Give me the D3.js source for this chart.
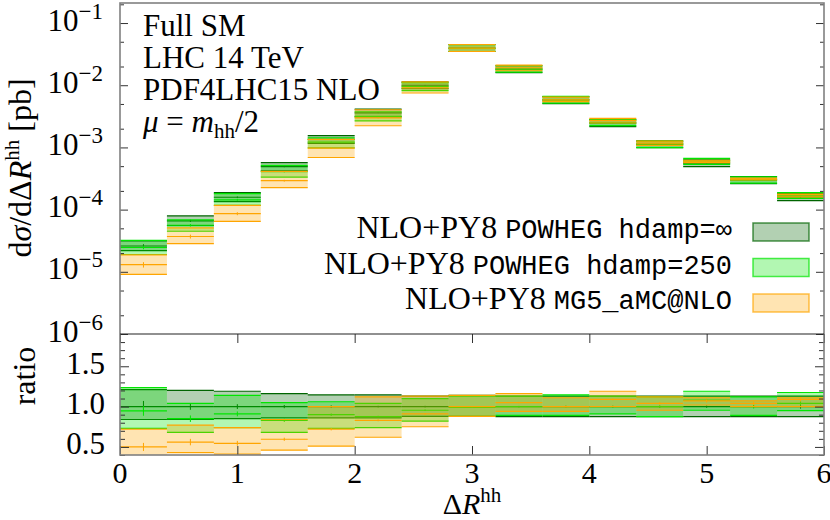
<!DOCTYPE html>
<html>
<head>
<meta charset="utf-8">
<script src="https://cdn.jsdelivr.net/npm/d3@7"></script>
<style>
  body { margin: 0; background: #fff; }
  text { font-family: "Liberation Serif", "Times New Roman", serif; fill: #000; }
  .tt { font-family: "Liberation Mono", "DejaVu Sans Mono", monospace; }
</style>
</head>
<body>
<svg id="chart" width="830" height="520"></svg>
<script>
'use strict'

// bin edges in Delta R^hh
const edges = [0, 0.4, 0.8, 1.2, 1.6, 2.0, 2.4, 2.8, 3.2, 3.6, 4.0, 4.4, 4.8, 5.2, 5.6, 6.0]

// central value of POWHEG hdamp=inf, dsigma/dDeltaR in pb
const refXsec = [2.6e-5, 6.6e-5, 1.58e-4, 4.9e-4, 1.35e-3, 3.6e-3, 1.0e-2, 3.96e-2,
  1.82e-2, 5.8e-3, 2.47e-3, 1.13e-3, 5.6e-4, 3.0e-4, 1.6e-4]

// everything below is a ratio to refXsec
const infMid = [1, 1, 1, 1, 1, 1, 1, 1, 1, 1, 1, 1, 1, 1, 1]
const infLo = [0.84, 0.84, 0.85, 0.86, 0.86, 0.86, 0.88, 0.88, 0.875, 0.875, 0.875, 0.875, 0.875, 0.875, 0.875]
const infHi = [1.21, 1.20, 1.19, 1.16, 1.145, 1.145, 1.13, 1.14, 1.13, 1.13, 1.13, 1.13, 1.13, 1.13, 1.13]
const infStat = [0.07, 0.04, 0.03, 0.02, 0.015, 0.01, 0.01, 0.006, 0.008, 0.01, 0.01, 0.012, 0.015, 0.02, 0.025]

const h250Mid = [0.946, 0.85, 0.91, 0.83, 0.90, 0.876, 0.955, 0.99, 1.0, 1.0, 1.0, 1.0, 1.08, 1.0, 1.04]
const h250Lo = [0.73, 0.68, 0.74, 0.68, 0.73, 0.74, 0.82, 0.88, 0.89, 0.89, 0.91, 0.876, 0.955, 0.89, 0.95]
const h250Hi = [1.235, 1.04, 1.14, 1.05, 1.06, 1.04, 1.10, 1.13, 1.13, 1.145, 1.13, 1.12, 1.19, 1.12, 1.175]
const h250Stat = [0.06, 0.04, 0.03, 0.02, 0.015, 0.01, 0.01, 0.006, 0.008, 0.01, 0.01, 0.012, 0.015, 0.02, 0.025]

const mgMid = [0.50, 0.56, 0.545, 0.595, 0.72, 0.83, 0.91, 1.0, 1.05, 1.0, 1.09, 1.04, 1.07, 1.04, 1.09]
const mgLo = [0.35, 0.43, 0.41, 0.46, 0.51, 0.62, 0.75, 0.88, 0.94, 0.94, 1.0, 0.955, 1.02, 1.0, 1.0]
const mgHi = [0.72, 0.77, 0.74, 0.84, 1.0, 1.12, 1.13, 1.14, 1.16, 1.11, 1.19, 1.12, 1.11, 1.07, 1.11]
const mgStat = [0.05, 0.04, 0.03, 0.02, 0.015, 0.012, 0.01, 0.006, 0.008, 0.01, 0.012, 0.015, 0.02, 0.02, 0.025]

const seriesNames = ['POWHEG hdamp=\u221e', 'POWHEG hdamp=250', 'MG5_aMC@NLO']
const seriesColors = ['#006400', '#00e600', '#ffa500']

// ticks
const xTicks = [0, 1, 2, 3, 4, 5, 6]
const logMajor = [1e-6, 1e-5, 1e-4, 1e-3, 1e-2, 1e-1]
const logMinor = [2e-6, 5e-6, 2e-5, 5e-5, 2e-4, 5e-4, 2e-3, 5e-3, 2e-2, 5e-2, 2e-1]
const ratioMajor = [0.5, 1.0, 1.5]
const ratioLabels = ['0.5', '1.0', '1.5']
const ratioMinor = [0.4, 0.6, 0.7, 0.8, 0.9, 1.1, 1.2, 1.3, 1.4, 1.6, 1.7, 1.8]

const infoLines = ['Full SM', 'LHC 14 TeV', 'PDF4LHC15 NLO']

const series = [
  { name: seriesNames[0], color: seriesColors[0], mid: infMid, lo: infLo, hi: infHi, stat: infStat },
  { name: seriesNames[1], color: seriesColors[1], mid: h250Mid, lo: h250Lo, hi: h250Hi, stat: h250Stat },
  { name: seriesNames[2], color: seriesColors[2], mid: mgMid, lo: mgLo, hi: mgHi, stat: mgStat }
]

const frame = { left: 120, right: 824, top: 3, mid: 334, bottom: 455 }

const svg = d3.select('#chart')

const x = d3.scaleLinear().domain([0, 6]).range([frame.left, frame.right])
const yMain = d3.scaleLog().domain([1e-6, 0.21]).range([frame.mid, frame.top])
const yRatio = d3.scaleLinear().domain([0.4, 1.9]).range([frame.bottom, frame.mid])

const bins = refXsec.map((v, i) => ({ i: i, x0: edges[i], x1: edges[i + 1] }))
const ones = refXsec.map(() => 1)

// clip regions
const defs = svg.append('defs')
defs.append('clipPath').attr('id', 'clipMain').append('rect')
  .attr('x', frame.left).attr('y', frame.top)
  .attr('width', frame.right - frame.left).attr('height', frame.mid - frame.top)
defs.append('clipPath').attr('id', 'clipRatio').append('rect')
  .attr('x', frame.left).attr('y', frame.mid)
  .attr('width', frame.right - frame.left).attr('height', frame.bottom - frame.mid)

let gMain = svg.append('g').attr('clip-path', 'url(#clipMain)')
let gRatio = svg.append('g').attr('clip-path', 'url(#clipRatio)')

series.forEach(s => {
  drawSeries(gMain, s, yMain, refXsec)
  drawSeries(gRatio, s, yRatio, ones)
})

drawAxes()
drawLabels()
drawLegend()

function drawSeries (g, s, yScale, norm) {
  let rows = bins.map(b => ({
    x0: b.x0,
    x1: b.x1,
    mid: s.mid[b.i] * norm[b.i],
    lo: s.lo[b.i] * norm[b.i],
    hi: s.hi[b.i] * norm[b.i],
    err: s.stat[b.i] * norm[b.i]
  }))
  let grp = g.append('g')

  grp.selectAll('rect')
    .data(rows)
    .enter()
    .append('rect')
      .attr('x', d => x(d.x0))
      .attr('width', d => x(d.x1) - x(d.x0))
      .attr('y', d => yScale(d.hi))
      .attr('height', d => yScale(d.lo) - yScale(d.hi))
      .attr('fill', s.color)
      .attr('fill-opacity', 0.3)

  ;['lo', 'hi', 'mid'].forEach(k => {
    grp.selectAll(null)
      .data(rows)
      .enter()
      .append('line')
        .attr('x1', d => x(d.x0))
        .attr('x2', d => x(d.x1))
        .attr('y1', d => yScale(d[k]))
        .attr('y2', d => yScale(d[k]))
        .attr('stroke', s.color)
        .attr('stroke-width', 1.2)
  })

  grp.selectAll(null)
    .data(rows)
    .enter()
    .append('line')
      .attr('x1', d => x((d.x0 + d.x1) / 2))
      .attr('x2', d => x((d.x0 + d.x1) / 2))
      .attr('y1', d => yScale(d.mid + d.err))
      .attr('y2', d => yScale(d.mid - d.err))
      .attr('stroke', s.color)
      .attr('stroke-width', 1)
}

function tickAxis (axis, transform) {
  let a = svg.append('g')
    .attr('transform', transform)
    .call(axis.tickFormat(''))
  a.select('.domain').remove()
  a.selectAll('line').attr('stroke', '#333').attr('stroke-width', 1)
}

function drawAxes () {
  // main panel, log y
  tickAxis(d3.axisLeft(yMain).tickValues(logMajor).tickSize(-8), `translate(${frame.left},0)`)
  tickAxis(d3.axisLeft(yMain).tickValues(logMinor).tickSize(-4), `translate(${frame.left},0)`)
  tickAxis(d3.axisRight(yMain).tickValues(logMajor).tickSize(-8), `translate(${frame.right},0)`)
  tickAxis(d3.axisRight(yMain).tickValues(logMinor).tickSize(-4), `translate(${frame.right},0)`)

  // ratio panel
  tickAxis(d3.axisLeft(yRatio).tickValues(ratioMajor).tickSize(-9), `translate(${frame.left},0)`)
  tickAxis(d3.axisLeft(yRatio).tickValues(ratioMinor).tickSize(-5), `translate(${frame.left},0)`)
  tickAxis(d3.axisRight(yRatio).tickValues(ratioMajor).tickSize(-9), `translate(${frame.right},0)`)
  tickAxis(d3.axisRight(yRatio).tickValues(ratioMinor).tickSize(-5), `translate(${frame.right},0)`)
  tickAxis(d3.axisBottom(x).tickValues(xTicks).tickSize(-9), `translate(0,${frame.bottom})`)
  tickAxis(d3.axisTop(x).tickValues(xTicks).tickSize(-9), `translate(0,${frame.mid})`)

  // frames
  svg.append('rect')
    .attr('x', frame.left).attr('y', frame.top)
    .attr('width', frame.right - frame.left).attr('height', frame.bottom - frame.top)
    .attr('fill', 'none').attr('stroke', '#808080').attr('stroke-width', 1.6)
  svg.append('line')
    .attr('x1', frame.left).attr('x2', frame.right)
    .attr('y1', frame.mid).attr('y2', frame.mid)
    .attr('stroke', '#222').attr('stroke-width', 1.2)

  // tick labels
  logMajor.forEach(v => {
    let t = svg.append('text')
      .attr('x', 103)
      .attr('y', yMain(v) + 7.5)
      .attr('text-anchor', 'end')
      .attr('font-size', 31)
    t.append('tspan').text('10')
    t.append('tspan').attr('dy', -12).attr('font-size', 23)
      .text('\u2212' + Math.round(-Math.log10(v)))
  })

  ratioMajor.forEach((v, i) => {
    svg.append('text')
      .attr('x', 105)
      .attr('y', yRatio(v) + 7.5)
      .attr('text-anchor', 'end')
      .attr('font-size', 31)
      .text(ratioLabels[i])
  })

  xTicks.forEach(v => {
    svg.append('text')
      .attr('x', x(v))
      .attr('y', 483)
      .attr('text-anchor', 'middle')
      .attr('font-size', 30)
      .text(v)
  })
}

function drawLabels () {
  // y title, main panel
  let yt = svg.append('text')
    .attr('transform', 'translate(31,168) rotate(-90)')
    .attr('text-anchor', 'middle')
    .attr('font-size', 32)
  yt.append('tspan').text('d')
  yt.append('tspan').attr('font-style', 'italic').text('\u03c3')
  yt.append('tspan').text('/d\u0394')
  yt.append('tspan').attr('font-style', 'italic').text('R')
  yt.append('tspan').attr('dy', -12).attr('font-size', 21).text('hh')
  yt.append('tspan').attr('dy', 12).text(' [pb]')

  svg.append('text')
    .attr('transform', 'translate(35,376) rotate(-90)')
    .attr('text-anchor', 'middle')
    .attr('font-size', 32)
    .text('ratio')

  // x title
  let xt = svg.append('text')
    .attr('x', (frame.left + frame.right) / 2)
    .attr('y', 514)
    .attr('text-anchor', 'middle')
    .attr('font-size', 30)
  xt.append('tspan').text('\u0394')
  xt.append('tspan').attr('font-style', 'italic').text('R')
  xt.append('tspan').attr('dy', -12).attr('font-size', 21).text('hh')

  // run info
  infoLines.forEach((s, i) => {
    svg.append('text')
      .attr('x', 143)
      .attr('y', 36 + i * 32)
      .attr('font-size', 31)
      .text(s)
  })
  let mu = svg.append('text')
    .attr('x', 143)
    .attr('y', 132)
    .attr('font-size', 31)
  mu.append('tspan').attr('font-style', 'italic').text('\u03bc')
  mu.append('tspan').text(' = ')
  mu.append('tspan').attr('font-style', 'italic').text('m')
  mu.append('tspan').attr('dy', 6).attr('font-size', 21).text('hh')
  mu.append('tspan').attr('dy', -6).text('/2')
}

function drawLegend () {
  series.forEach((s, i) => {
    let yb = 238 + i * 35.5
    let t = svg.append('text')
      .attr('x', 732)
      .attr('y', yb)
      .attr('text-anchor', 'end')
      .attr('font-size', 32)
    t.append('tspan').text('NLO+PY8 ')
    t.append('tspan').attr('class', 'tt').attr('font-size', 27).text(s.name)

    svg.append('rect')
      .attr('x', 753)
      .attr('y', yb - 15)
      .attr('width', 56)
      .attr('height', 18)
      .attr('fill', s.color)
      .attr('fill-opacity', 0.3)
      .attr('stroke', s.color)
      .attr('stroke-opacity', 0.7)
      .attr('stroke-width', 1.5)
  })
}
</script>
</body>
</html>
